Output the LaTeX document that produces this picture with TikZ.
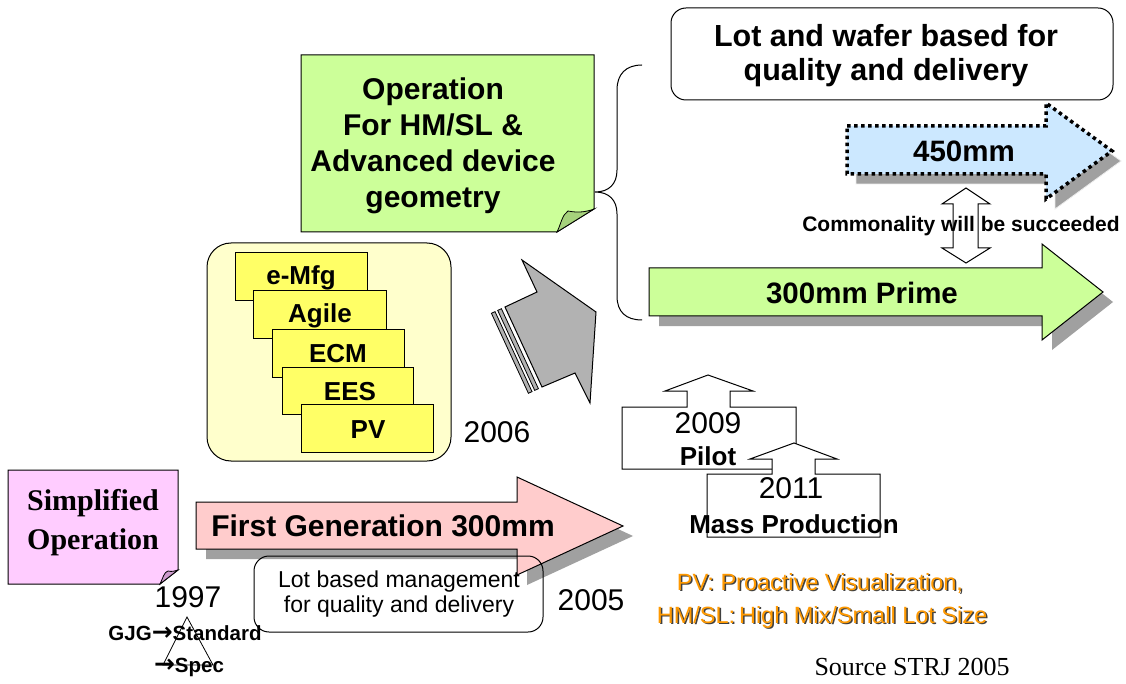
\documentclass[tikz,border=0pt]{standalone}
\usepackage{fontspec}
\setmainfont{Liberation Sans}
\newfontfamily\timesfont{Liberation Serif}
\newfontfamily\symfont{DejaVu Sans}
\definecolor{pinkfill}{HTML}{FFCCCC}
\definecolor{greenfill}{HTML}{CCFF99}
\definecolor{greenfold}{HTML}{A6D27C}
\definecolor{bluefill}{HTML}{CCE8FF}
\definecolor{paleyellow}{HTML}{FFFFCC}
\definecolor{cardyellow}{HTML}{FFFF66}
\definecolor{lilac}{HTML}{FFCCFF}
\definecolor{lilacfold}{HTML}{CC99CC}
\definecolor{shade}{HTML}{A0A0A0}
\definecolor{arrowgray}{HTML}{B2B2B2}
\definecolor{notecolor}{HTML}{FF9900}
\newcommand{\fsz}[2]{\fontsize{#1}{#2}\selectfont}
\newcommand{\boldarrow}{{\symfont\bfseries\fsz{25}{22}→}}
\tikzset{
  outline/.style={draw=black, line width=1pt},
  thin outline/.style={draw=black, line width=0.8pt},
  shadowfill/.style={fill=shade, draw=white!85!gray, line width=0.8pt},
  txt/.style={inner sep=0pt, align=center},
  bigbold/.style={txt, font=\bfseries\fsz{30.5}{34}},
  cardtxt/.style={txt, font=\bfseries\fsz{26}{28}},
  card/.style={outline, fill=cardyellow},
  year/.style={txt, font=\fsz{30}{32}},
  orangetxt/.style={txt, font=\fsz{23.5}{26}, text=notecolor},
  orangeshadow/.style={txt, font=\fsz{23.5}{26}, text=black!75},
}
\begin{document}
\begin{tikzpicture}[x=1pt,y=-1pt]
\useasboundingbox (0,0) rectangle (1126,684);
\fill[white] (0,0) rectangle (1126,684);

% ---------- 450mm arrow (dotted) ----------
\path[shadowfill] (856,136) -- (1055,136) -- (1055,113) -- (1121,161) -- (1055,209) -- (1055,184) -- (856,184) -- cycle;
\path[fill=bluefill, draw=black, line width=3.5pt, dash pattern=on 3.5pt off 3.5pt]
  (847,126) -- (1046,126) -- (1046,103) -- (1112,151) -- (1046,199) -- (1046,174) -- (847,174) -- cycle;
\node[txt, font=\bfseries\fsz{29.5}{34}] (n450) at (964,151) {450mm};

% ---------- top note ----------
\draw[outline, fill=white, rounded corners=15pt] (671,8) rectangle (1113,100);
\node[bigbold] (wafer) at (886,56) {Lot and wafer based for\\quality and delivery};

% ---------- commonality double arrow ----------
\path[outline, fill=white] (966,188) -- (990,204) -- (978,204) -- (978,248) -- (990,248) -- (966,263)
  -- (942,248) -- (953,248) -- (953,204) -- (942,204) -- cycle;
\node[txt, font=\bfseries\fsz{21}{24}] (common) at (961,226) {Commonality will be succeeded};

% ---------- 300mm Prime arrow ----------
\path[fill=shade] (659,278) -- (1052,278) -- (1052,254) -- (1113,302) -- (1052,350) -- (1052,326) -- (659,326) -- cycle;
\path[outline, fill=greenfill] (649,268) -- (1042,268) -- (1042,244) -- (1103,292) -- (1042,340) -- (1042,316) -- (649,316) -- cycle;
\node[txt, font=\bfseries\fsz{29.5}{34}] (prime) at (862,293) {300mm Prime};

% ---------- brace ----------
\draw[line width=1pt] (642,65) .. controls (626,65) and (617,74) .. (617,90) -- (617,170)
  .. controls (617,184) and (609,192) .. (595,192)
  .. controls (609,192) and (617,200) .. (617,214) -- (617,296)
  .. controls (617,312) and (626,320) .. (642,320);

% ---------- operation note ----------
\path[outline, fill=greenfill] (301,55) -- (594,55) -- (594,209) -- (557,232) -- (301,232) -- cycle;
\path[thin outline, fill=greenfold] (557,232) .. controls (561,224) and (562,215) .. (568,211)
  .. controls (578,213) and (586,212) .. (594,209) -- cycle;
\node[txt, font=\bfseries\fsz{30}{36}] (oper) at (433,146) {Operation\\For HM/SL \&\\Advanced device\\geometry};

% ---------- tool box ----------
\draw[outline, fill=paleyellow, rounded corners=24pt] (207,243) rectangle (451,461);
\draw[card] (235,253) rectangle (367,301);
\node[cardtxt] (emfg) at (301,278) {e-Mfg};
\draw[card] (253,291) rectangle (386,338);
\node[cardtxt] (agile) at (320,316) {Agile};
\draw[card] (272,329) rectangle (404,377);
\node[cardtxt] (ecm) at (338,354) {ECM};
\draw[card] (282,367) rectangle (413,414);
\node[cardtxt] (ees) at (350,392) {EES};
\draw[card] (301,404) rectangle (433,452);
\node[cardtxt] (pv) at (368,430) {PV};
\node[year] (y2006) at (497,432) {2006};

% ---------- gray arrow ----------
\path[outline, fill=arrowgray] (522,260) -- (596,312) -- (590,403) -- (575,373) -- (542,387)
  -- (505,307) -- (537,292) -- cycle;
\path[thin outline, fill=arrowgray] (501.4,308.7) -- (538.4,388.7) -- (534.7,390.4) -- (497.7,310.4) -- cycle;
\path[thin outline, fill=arrowgray] (495,311.6) -- (532,391.6) -- (528.4,393.3) -- (491.4,313.3) -- cycle;

% ---------- first generation arrow ----------
\path[fill=shade] (206,512) -- (527,512) -- (527,487) -- (633,536) -- (527,585) -- (527,559) -- (206,559) -- cycle;
\path[outline, fill=pinkfill] (196,502) -- (517,502) -- (517,477) -- (623,526) -- (517,575) -- (517,549) -- (196,549) -- cycle;
\node[txt, font=\bfseries\fsz{30}{34}] (firstgen) at (383,526) {First Generation 300mm};

% ---------- lot based note ----------
\draw[outline, rounded corners=15pt] (254,556) rectangle (543,632);
\node[txt, font=\fsz{23}{25}] (lotbased) at (399,594) {Lot based management\\for quality and delivery};
\node[year] (y2005) at (591,600) {2005};

% ---------- simplified operation note ----------
\path[outline, fill=lilac] (8,470) -- (178,470) -- (178,570) -- (160,584) -- (8,584) -- cycle;
\path[thin outline, fill=lilacfold] (160,584) .. controls (163,578) and (164,572) .. (168,571)
  .. controls (172,572) and (175,571) .. (178,570) -- cycle;
\node[txt, font=\timesfont\bfseries\fsz{30}{39}] (simp) at (93,523) {Simplified\\Operation};

% ---------- 1997 ----------
\node[year] (y1997) at (188,597) {1997};
\draw[line width=0.8pt] (187,617) -- (163,665) -- (213,665) -- cycle;
\node[txt, font=\bfseries\fsz{20.5}{22}] (gjg) at (185,633) {GJG\boldarrow Standard};
\node[txt, font=\bfseries\fsz{20.5}{22}] (spec) at (189,667) {\boldarrow Spec};

% ---------- pilot / mass production ----------
\path[outline, fill=white] (622,407) -- (687,407) -- (687,391) -- (665,391) -- (708,375) -- (753,391)
  -- (730,391) -- (730,407) -- (796,407) -- (796,469) -- (622,469) -- cycle;
\node[year] (y2009) at (708,423) {2009};
\node[txt, font=\bfseries\fsz{26}{28}] (pilot) at (708,456) {Pilot};
\path[outline, fill=white] (707,474) -- (772,474) -- (772,459) -- (750,459) -- (794,443) -- (837,459)
  -- (815,459) -- (815,474) -- (880,474) -- (880,537) -- (707,537) -- cycle;
\node[year] (y2011) at (791,488) {2011};
\node[txt, font=\bfseries\fsz{26}{28}] (mass) at (794,524) {Mass Production};

% ---------- legend ----------
\node[orangeshadow] (pvS) at (821.5,584.5) {PV: Proactive Visualization,};
\node[orangetxt] (pvline) at (820,583) {PV: Proactive Visualization,};
\node[orangeshadow] (hmS) at (823.5,618.5) {HM/SL:\,High Mix/Small Lot Size};
\node[orangetxt] (hmline) at (822,617) {HM/SL:\,High Mix/Small Lot Size};
\node[txt, font=\timesfont\fsz{26}{30}] (source) at (912,667) {Source STRJ 2005};
\end{tikzpicture}
\end{document}
